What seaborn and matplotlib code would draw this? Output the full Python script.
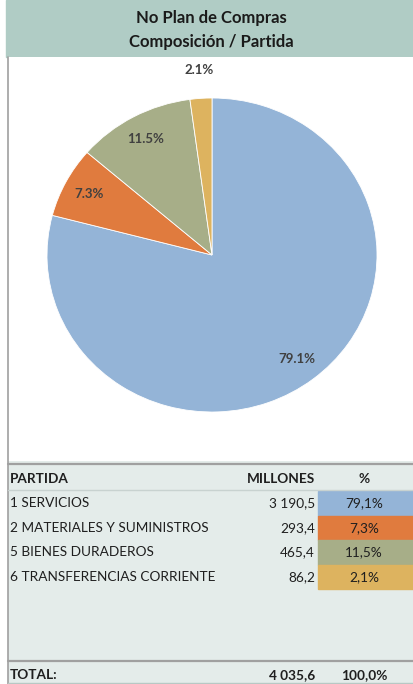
import numpy as np
import seaborn as sns
import matplotlib.pyplot as plt
from matplotlib.patches import Rectangle

sns.set_style('white')
plt.rcParams['font.family'] = ['Lato', 'DejaVu Sans']

# Data
titulo = ['No Plan de Compras', 'Composición / Partida']
partidas = ['1 SERVICIOS', '2 MATERIALES Y SUMINISTROS', '5 BIENES DURADEROS', '6 TRANSFERENCIAS CORRIENTE']
millones = [3190.5, 293.4, 465.4, 86.2]
colores = ['#94B4D7', '#E07B3E', '#A7AE88', '#DDB35F']
total_label = 'TOTAL:'
total_millones = 4035.6  # as shown in the source table


def fmt_num(v):
    s = f'{v:,.1f}'
    return s.replace(',', ' ').replace('.', ',')


pct = np.array(millones) / np.sum(millones) * 100

W, H = 414, 684
fig = plt.figure(figsize=(W / 100, H / 100), dpi=100)

# Background axes in pixel coordinates
bg = fig.add_axes([0, 0, 1, 1])
bg.set_xlim(0, W)
bg.set_ylim(H, 0)
bg.axis('off')

# Title band
bg.add_patch(Rectangle((6, 0), W - 6, 57, color='#B0CCC5', zorder=1))
bg.text(211, 18, titulo[0], ha='center', va='center', fontsize=12, fontweight='bold', color='#1A1A1A')
bg.text(211, 42, titulo[1], ha='center', va='center', fontsize=12, fontweight='bold', color='#1A1A1A')

# Chart area
bg.add_patch(Rectangle((8, 57), W - 8, 404, facecolor='white', edgecolor='none', zorder=1))

# Table area
bg.add_patch(Rectangle((8, 461), W - 8, H - 461, facecolor='#E4ECEA', edgecolor='none', zorder=1))
bg.plot([8, 8], [57, H], color='#A0A0A0', lw=1.2, zorder=3)
bg.plot([8, W], [464, 464], color='#A0A0A0', lw=1.6, zorder=3)
bg.plot([8, W], [490, 490], color='#C8D2D0', lw=1.0, zorder=3)
bg.plot([8, W], [661, 661], color='#A0A0A0', lw=1.6, zorder=3)
bg.plot([8, W], [H - 1, H - 1], color='#B8C8C4', lw=1.0, zorder=3)

txt = '#1F1F1F'
fs = 9.8
bg.text(10, 479, 'PARTIDA', ha='left', va='center', fontsize=fs, fontweight='bold', color=txt, zorder=4)
bg.text(315, 479, 'MILLONES', ha='right', va='center', fontsize=fs, fontweight='bold', color=txt, zorder=4)
bg.text(364, 479, '%', ha='center', va='center', fontsize=fs, fontweight='bold', color=txt, zorder=4)

row_h = 24.5
y0 = 491
for i, (p, m, c, q) in enumerate(zip(partidas, millones, colores, pct)):
    yc = y0 + row_h * (i + 0.5)
    bg.add_patch(Rectangle((318, y0 + row_h * i), W - 318, row_h, color=c, zorder=2))
    t = bg.text(10, yc, p, ha='left', va='center', fontsize=fs, color=txt, zorder=4)
    t.set_clip_path(Rectangle((0, y0), 216, 200, transform=bg.transData))
    bg.text(315, yc, fmt_num(m), ha='right', va='center', fontsize=fs, color=txt, zorder=4)
    bg.text(364, yc, f'{q:.1f}%'.replace('.', ','), ha='center', va='center', fontsize=fs, color=txt, zorder=4)

bg.text(10, 675, total_label, ha='left', va='center', fontsize=fs, fontweight='bold', color=txt, zorder=4)
bg.text(315, 675, fmt_num(total_millones), ha='right', va='center', fontsize=fs, fontweight='bold', color=txt, zorder=4)
bg.text(364, 675, f'{pct.sum():.1f}%'.replace('.', ','), ha='center', va='center', fontsize=fs, fontweight='bold', color=txt, zorder=4)

# Pie
ax = fig.add_axes([47 / W, (H - 412) / H, 330 / W, 314 / H])
wedges, _ = ax.pie(millones, colors=colores, startangle=90, counterclock=False,
                   wedgeprops=dict(edgecolor='white', linewidth=0.6))
ax.set_aspect('auto')
ax.set_xlim(-1, 1)
ax.set_ylim(-1, 1)
for w, q in zip(wedges, pct):
    ang = np.deg2rad((w.theta1 + w.theta2) / 2)
    r = 1.18 if q < 5 else 0.84
    ax.text(r * np.cos(ang), r * np.sin(ang), f'{q:.1f}%', ha='center', va='center',
            fontsize=9.5, fontweight='bold', color='#404040', clip_on=False)

fig.savefig('out.png', dpi=100)
